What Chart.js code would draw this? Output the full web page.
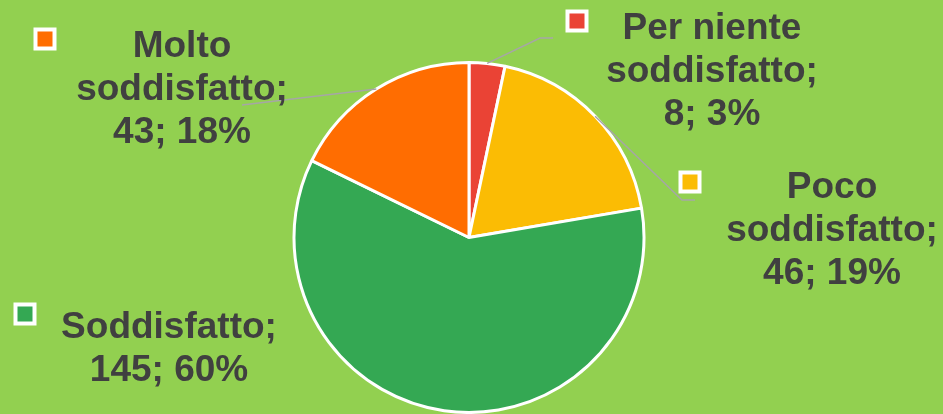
<!DOCTYPE html>
<html>
<head>
<meta charset="utf-8">
<script src="https://cdn.jsdelivr.net/npm/chart.js@4/dist/chart.umd.min.js"></script>
<style>
  html, body { margin: 0; padding: 0; background: #92D050; }
  #wrap { width: 943px; height: 414px; position: relative; }
</style>
</head>
<body>
<div id="wrap"><canvas id="c"></canvas></div>
<script>
// ---- data ----
const categories = [["Per niente", "soddisfatto"], ["Poco", "soddisfatto"], ["Soddisfatto"], ["Molto", "soddisfatto"]];
const values = [8, 46, 145, 43];
const colors = ["#EA4335", "#FBBC04", "#34A853", "#FF6D01"];

// ---- label layout (positions only) ----
const labelLayout = [
  { cx: 712, y0: 39, marker: [577, 21], leader: [[540, 38], [553, 38]] },
  { cx: 832, y0: 198, marker: [690, 182], leader: [[682, 200], [695, 200]] },
  { cx: 169, y0: 338, marker: [25, 314], leader: null },
  { cx: 182, y0: 57, marker: [45, 39], leader: [[242, 105]] }
];

const labelPlugin = {
  id: 'outLabels',
  afterDatasetsDraw(chart) {
    const ctx = chart.ctx;
    const meta = chart.getDatasetMeta(0);
    const data = chart.data.datasets[0].data;
    const total = data.reduce((a, b) => a + b, 0);
    ctx.save();
    meta.data.forEach((arc, i) => {
      const L = labelLayout[i];
      if (L.leader) {
        const mid = (arc.startAngle + arc.endAngle) / 2;
        const sx = arc.x + Math.cos(mid) * arc.outerRadius;
        const sy = arc.y + Math.sin(mid) * arc.outerRadius;
        ctx.beginPath();
        ctx.strokeStyle = '#A6A6A6';
        ctx.lineWidth = 1.5;
        ctx.moveTo(sx, sy);
        L.leader.forEach(p => ctx.lineTo(p[0], p[1]));
        ctx.stroke();
      }
      const [mx, my] = L.marker;
      ctx.fillStyle = '#FFFFFF';
      ctx.fillRect(mx - 11.5, my - 11.5, 23, 23);
      ctx.fillStyle = colors[i];
      ctx.fillRect(mx - 7.5, my - 7.5, 15, 15);
      const name = chart.data.labels[i].slice();
      name[name.length - 1] = name[name.length - 1] + ';';
      const pct = Math.round(data[i] / total * 100);
      const lines = name.concat([data[i] + '; ' + pct + '%']);
      ctx.fillStyle = '#404040';
      ctx.font = 'bold 37px "Liberation Sans", Arial, sans-serif';
      ctx.textAlign = 'center';
      ctx.textBaseline = 'alphabetic';
      lines.forEach((t, k) => ctx.fillText(t, L.cx, L.y0 + k * 43));
    });
    ctx.restore();
  }
};

new Chart(document.getElementById('c'), {
  type: 'pie',
  data: {
    labels: categories,
    datasets: [{
      data: values,
      backgroundColor: colors,
      borderColor: '#FFFFFF',
      borderWidth: 3
    }]
  },
  options: {
    responsive: true,
    maintainAspectRatio: false,
    animation: false,
    layout: { padding: { top: 61, bottom: 0, left: 0, right: 5 } },
    plugins: {
      legend: { display: false },
      tooltip: { enabled: false }
    }
  },
  plugins: [labelPlugin]
});
</script>
</body>
</html>
